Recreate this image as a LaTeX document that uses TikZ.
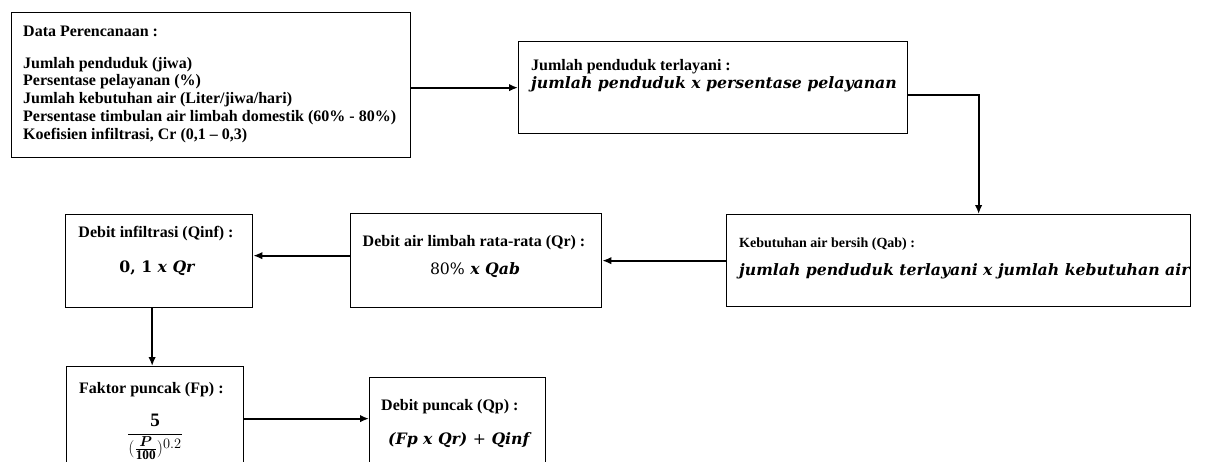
\documentclass[tikz,border=0pt]{standalone}
\usepackage{amsmath}
\usepackage{fontspec}
\setmainfont{Liberation Serif}
\newfontfamily\fm{DejaVu Serif}
\usetikzlibrary{arrows.meta}

\tikzset{
  box/.style={draw, line width=1.3pt, inner sep=0pt, anchor=north west},
  lbl/.style={inner sep=0pt, anchor=base west, font=\fontsize{16}{18}\selectfont\bfseries},
  lblc/.style={inner sep=0pt, anchor=base, font=\fontsize{16}{18}\selectfont\bfseries},
  lbls/.style={inner sep=0pt, anchor=base west, font=\fontsize{16}{18}\selectfont\bfseries},
  lblt/.style={inner sep=0pt, anchor=base west, font=\fontsize{14}{18}\selectfont\bfseries},
  frm/.style={inner sep=0pt, font=\fontsize{15.7}{18}\selectfont\fm\bfseries\itshape},
  conn/.style={line width=1.8pt, -{Latex[length=9pt,width=7.5pt]}}
}

\begin{document}
\begin{tikzpicture}[x=1pt,y=-1pt]
\useasboundingbox (0,0) rectangle (1206,461);
\clip (0,0) rectangle (1206,461);

% boxes
\node[box, minimum width=399pt, minimum height=145pt] (b1) at (11,12) {};
\node[box, minimum width=389pt, minimum height=92pt]  (b2) at (518,41) {};
\node[box, minimum width=464pt, minimum height=92pt]  (b3) at (726,214) {};
\node[box, minimum width=251pt, minimum height=94pt]  (b4) at (350,213) {};
\node[box, minimum width=187pt, minimum height=93pt]  (b5) at (65,214) {};
\node[box, minimum width=177pt, minimum height=104pt] (b6) at (66,366) {};
\node[box, minimum width=176pt, minimum height=100pt] (b7) at (369,377) {};

% planning data
\node[lbl] (t1) at (23,36) {Data Perencanaan :};
\node[lbl] (t1a) at (23,68)  {Jumlah penduduk (jiwa)};
\node[lbl] (t1b) at (23,85)  {Persentase pelayanan (\%)};
\node[lbl] (t1c) at (23,103) {Jumlah kebutuhan air (Liter/jiwa/hari)};
\node[lbl] (t1d) at (23,121) {Persentase timbulan air limbah domestik (60\% - 80\%)};
\node[lbl] (t1e) at (23,139) {Koefisien infiltrasi, Cr (0,1 -- 0,3)};

% served population
\node[lbl] (t2) at (531,70) {Jumlah penduduk terlayani :};
\node[frm, anchor=base west] (f2) at (531,88) {jumlah penduduk x persentase pelayanan};

% clean water demand
\node[lblt] (t3) at (739,247) {Kebutuhan air bersih (Qab) :};
\node[frm, anchor=base west] (f3) at (739,275) {jumlah penduduk terlayani x jumlah kebutuhan air};

% average wastewater flow
\node[lblc] (t4) at (474,246) {Debit air limbah rata-rata (Qr) :};
\node[frm, anchor=base] (f4) at (475,274) {{\upshape\mdseries 80\%} x Qab};

% infiltration flow
\node[lblc] (t5) at (156,237) {Debit infiltrasi (Qinf) :};
\node[frm, anchor=base] (f5) at (157,272) {{\upshape 0, 1} x Qr};

% peak factor
\node[lbls] (t6) at (79,393) {Faktor puncak (Fp) :};
\node[inner sep=0pt, font=\fontsize{19}{22}\selectfont] (f6) at (155,437)
  {$\displaystyle\frac{\mathbf{5}}{(\frac{\boldsymbol{P}}{\mathbf{100}})^{0.2}}$};

% peak flow
\node[lbls] (t7) at (381,410) {Debit puncak (Qp) :};
\node[frm, anchor=base west] (f7) at (388,444) {(Fp x Qr) {\upshape\mdseries +} Qinf};

% connectors
\draw[conn] ([yshift=-2.5pt]b1.east) -- ([yshift=-2.5pt]b1.east -| b2.west);
\draw[conn] ([yshift=-7pt]b2.east) -| ([xshift=20pt]b3.north);
\draw[conn] (b3.west) -- (b3.west -| b4.east);
\draw[conn] ([yshift=5pt]b4.west) -- ([yshift=5pt]b4.west -| b5.east);
\draw[conn] ([xshift=-7pt]b5.south) -- ([xshift=-7pt]b5.south |- b6.north);
\draw[conn] (b6.east) -- (b6.east -| b7.west);
\end{tikzpicture}
\end{document}
